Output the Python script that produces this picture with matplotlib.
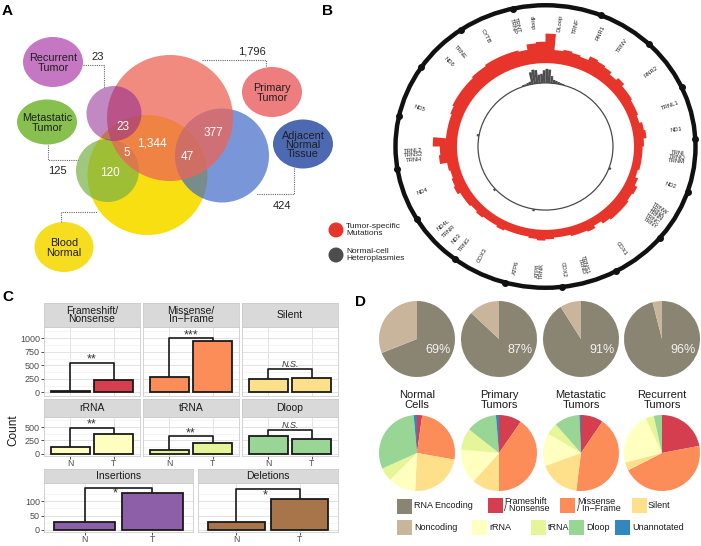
import numpy as np
import matplotlib
matplotlib.use("Agg")
import matplotlib.pyplot as plt
from matplotlib.patches import Circle, Ellipse, Polygon, Rectangle

plt.rcParams['font.family'] = ['Liberation Sans', 'DejaVu Sans']

# ---------------- data ----------------
# Panel A
venn_set_names = ["Recurrent\nTumor", "Metastatic\nTumor", "Primary\nTumor",
                  "Adjacent\nNormal\nTissue", "Blood\nNormal"]
venn_set_counts = [23, 125, 1796, 424]
venn_overlap_counts = [23, 1344, 5, 120, 377, 47]

# Panel B
MT_LEN = 16569
red_counts = [22, 10, 11, 10, 9, 12, 11, 10, 8, 10,
              8, 8, 7, 7, 6, 8, 9, 7, 6, 6,
              6, 5, 7, 9, 8, 9, 9, 9, 8, 6,
              8, 7, 7, 6, 6, 7, 8, 7, 6, 6,
              6, 7, 6, 6, 7, 6, 7, 7, 9, 8,
              7, 8, 13, 12, 17, 8, 8, 8, 9, 10,
              10, 10, 10, 11, 11, 12, 12, 12, 12, 11,
              15, 16]
gray_start_deg = [-20, -18, -16, -14, -12, -10, -8, -6, -4, -2, 0, 2, 4, 6, 8, 10, 12, 14,
                  109, 189, 227, 279]
gray_counts = [1, 1, 1.5, 2, 8.5, 10, 9.5, 6, 6.5, 9, 10, 9.5, 5, 2.5, 2, 1.5, 1, 0.8,
               1.5, 1.5, 1.5, 1.5]
gene_names = ["DLoop", "TRNF", "RNR1", "TRNV", "RNR2", "TRNL1", "ND1", "TRNI\nTRNQ\nTRNM",
              "ND2", "TRNW\nTRNA\nTRNN\nTRNC\nTRNY", "COX1", "TRNS1\nTRND", "COX2",
              "ATP8\nTRNK", "ATP6", "COX3", "TRNG", "ND3", "TRNR", "ND4L", "ND4",
              "TRNL2\nTRNS2\nTRNH", "ND5", "ND6", "TRNE", "CYTB", "TRNT\nTRNP", "dloop"]
gene_pos_bp = [288, 612, 1125, 1636, 2450, 3267, 3785, 4366, 4990, 5700, 6675, 7515, 7928,
               8400, 8867, 9600, 10025, 10230, 10437, 10618, 11450, 12240, 13240, 14410,
               14708, 15317, 15955, 16296]

# Panel C
c_categories = ["Frameshift/\nNonsense", "Missense/\nIn\u2212Frame", "Silent", "rRNA", "tRNA",
                "Dloop", "Insertions", "Deletions"]
c_normal = [31, 281, 250, 125, 62, 331, 28, 28]
c_tumor = [231, 950, 269, 362, 206, 269, 128, 109]
c_bracket = [544, 1000, 437, 487, 331, 450, 147, 142]
c_signif = ["**", "***", "N.S.", "**", "**", "N.S.", "*", "*"]
c_xlabels = ["N", "T"]

# Panel D
d_groups = ["Normal\nCells", "Primary\nTumors", "Metastatic\nTumors", "Recurrent\nTumors"]
d_rna_pct = [69, 87, 91, 96]
d_categories = ["Frameshift\n/ Nonsense", "Missense\n/ In\u2212Frame", "Silent", "rRNA", "tRNA",
                "Dloop", "Unannotated"]
d_normal = [2.2, 25.6, 23.0, 11.7, 5.8, 30.3, 1.4]
d_primary = [9.7, 40.3, 11.7, 14.7, 9.2, 13.1, 1.3]
d_metastatic = [9.5, 42.5, 17.5, 14.0, 5.0, 10.8, 0.7]
d_recurrent = [22.0, 45.5, 3.5, 22.0, 3.5, 3.5, 0.0]

# ---------------- figure ----------------
W, H = 701, 546
fig = plt.figure(figsize=(W / 100, H / 100), dpi=100)


def add_ax(x0, y0, x1, y1):
    return fig.add_axes([x0 / W, 1 - y1 / H, (x1 - x0) / W, (y1 - y0) / H])


ov = add_ax(0, 0, W, H)
ov.set_xlim(0, W)
ov.set_ylim(H, 0)
ov.axis('off')

# panel letters
for lab, (x, y) in zip("ABCD", [(2, 11), (322, 11), (2, 297), (355, 302)]):
    ov.text(x, y, lab, fontsize=11, fontweight='bold', ha='left', va='center')

# ---------------- Panel A ----------------
big = [((147.5, 175), 60, '#f7df12', 1.0),
       ((107.5, 170.5), 31.5, '#78b146', 0.7),
       ((222, 155.5), 47, '#3a66c6', 0.68),
       ((170, 118), 63, '#ed6455', 0.75),
       ((114, 113.5), 27.5, '#8e268e', 0.55)]
for c, r, col, a in big:
    ov.add_patch(Circle(c, r, fc=col, ec='none', alpha=a))

ell = [((53, 62), 60, 50, '#c677c4'),
       ((47, 122), 60, 45, '#87c04f'),
       ((272, 92), 60, 50, '#ee7d7f'),
       ((303, 144), 60, 49, '#4c69b2'),
       ((64, 247), 59, 50, '#f6dd1f')]
for (c, w, h, col), name in zip(ell, venn_set_names):
    ov.add_patch(Ellipse(c, w, h, fc=col, ec='none'))
    ov.text(c[0], c[1] + 1, name, ha='center', va='center', fontsize=7.8,
            color='#1f1f1f', linespacing=0.9)

dot = dict(color='#666666', lw=0.8, linestyle=(0, (1, 1)))
ov.plot([83, 104, 104], [65, 65, 88], **dot)
ov.plot([202, 266, 266], [60, 60, 67], **dot)
ov.plot([48, 48, 78], [145, 160, 160], **dot)
ov.plot([294, 294, 256], [168, 194, 194], **dot)
ov.plot([61, 61, 97], [222, 212, 212], **dot)

for v, (x, y) in zip(venn_set_counts, [(98, 57), (57, 171), (252, 51), (282, 206)]):
    ov.text(x, y, f"{v:,}", ha='center', va='center', fontsize=8, color='#222222')
for v, (x, y) in zip(venn_overlap_counts,
                     [(123, 127), (152, 143), (127, 153), (110, 173), (213, 133), (187, 157)]):
    ov.text(x, y, f"{v:,}", ha='center', va='center', fontsize=8.5, color='white')

# ---------------- Panel B ----------------
axB = add_ax(391, 1, 700, 292)
axB.set_xlim(-1.03, 1.03)
axB.set_ylim(-1.03, 1.03)
axB.axis('off')


def pol(theta_deg, r):
    t = np.deg2rad(theta_deg)
    return r * np.sin(t), r * np.cos(t)


R_IN = 0.59
SCALE = 0.0095
outer = []
for i, h in enumerate(red_counts):
    th = np.linspace(i * 5, (i + 1) * 5, 6)
    x, y = pol(th, R_IN + h * SCALE)
    outer += list(zip(x, y))
th = np.linspace(360, 0, 240)
x, y = pol(th, R_IN)
axB.add_patch(Polygon(outer + list(zip(x, y)), closed=True, fc='#e8352b', ec='none'))

R_G = 0.45
for s, h in zip(gray_start_deg, gray_counts):
    th = np.linspace(s, s + 2, 4)
    xo, yo = pol(th, R_G + h * 0.01)
    xi, yi = pol(th[::-1], R_G)
    axB.add_patch(Polygon(list(zip(xo, yo)) + list(zip(xi, yi)), closed=True,
                          fc='#4d4d4d', ec='none'))
axB.add_patch(Circle((0, 0), R_G, fill=False, ec='#4a4a4a', lw=0.9))

axB.add_patch(Circle((0, 0), 1.0, fill=False, ec='#111111', lw=3.2))
tick_bp = np.arange(1000, 16001, 1000)
x, y = pol(tick_bp / MT_LEN * 360, 1.0)
axB.plot(x, y, 'o', ms=4, color='#111111')

for name, bp in zip(gene_names, gene_pos_bp):
    thd = bp / MT_LEN * 360
    x, y = pol(thd, 0.88)
    rot = 90 - thd if thd <= 180 else 270 - thd
    axB.text(x, y, name, rotation=rot, ha='center', va='center', fontsize=4.2,
             linespacing=0.8, color='#222222', rotation_mode='anchor')

# legend B
ov.add_patch(Circle((336, 230), 7.5, fc='#e8352b', ec='none'))
ov.add_patch(Circle((336, 255), 7.5, fc='#4d4d4d', ec='none'))
ov.text(346, 230, "Tumor-specific\nMutations", fontsize=6, va='center', ha='left',
        linespacing=1.0, color='#222222')
ov.text(346, 255, "Normal-cell\nHeteroplasmies", fontsize=6, va='center', ha='left',
        linespacing=1.0, color='#222222')

# ---------------- Panel C ----------------
c_colors = ['#d53e4f', '#fc8d59', '#fee08b', '#ffffbf', '#e6f598', '#99d594',
            '#8c5fa8', '#a8744a']
c_rows = [[0, 1, 2], [3, 4, 5], [6, 7]]
row_geo = [(303, 327, 396), (399, 417, 456), (469, 483, 532)]
col_geo = [[(44, 140), (143, 239), (242, 338)],
           [(44, 140), (143, 239), (242, 338)],
           [(44, 193), (198, 338)]]
row_ylim = [(-65, 1205), (-45, 690), (-7, 163)]
row_ticks = [[0, 250, 500, 750, 1000], [0, 250, 500], [0, 50, 100]]

for ri, idxs in enumerate(c_rows):
    st, pt, pb = row_geo[ri]
    for ci, k in enumerate(idxs):
        x0, x1 = col_geo[ri][ci]
        ax = add_ax(x0, pt, x1, pb)
        ax.set_facecolor('white')
        ax.bar([1, 2], [c_normal[k], c_tumor[k]], width=0.9, color=c_colors[k],
               edgecolor='#1a1a1a', linewidth=1.3, zorder=3)
        ax.set_xlim(0.4, 2.6)
        ax.set_ylim(*row_ylim[ri])
        tk = row_ticks[ri]
        ax.set_yticks(tk)
        ax.set_yticks([(a + b) / 2 for a, b in zip(tk[:-1], tk[1:])] + [tk[-1] + (tk[1] - tk[0]) / 2],
                      minor=True)
        ax.set_xticks([1, 2])
        ax.set_xticklabels(c_xlabels)
        ax.grid(which='major', color='#e3e3e3', lw=0.7, zorder=0)
        ax.grid(which='minor', axis='y', color='#f1f1f1', lw=0.5, zorder=0)
        ax.set_axisbelow(True)
        ax.tick_params(which='major', length=2, width=0.6, color='#333333', labelsize=6.5,
                       labelcolor='#4d4d4d', pad=1)
        ax.tick_params(axis='x', labelsize=6.2, pad=0.5)
        ax.tick_params(which='minor', length=0)
        if ci != 0:
            ax.tick_params(labelleft=False, left=False)
        if ri == 0:
            ax.tick_params(labelbottom=False, bottom=False)
        for sp in ax.spines.values():
            sp.set_color('#cccccc')
            sp.set_linewidth(0.6)
        b = c_bracket[k]
        ax.plot([1, 1, 2, 2], [c_normal[k], b, b, c_tumor[k]], color='#1a1a1a', lw=1.2,
                zorder=4, solid_capstyle='butt')
        if c_signif[k] == "N.S.":
            ax.text(1.5, b, c_signif[k], ha='center', va='bottom', fontsize=6.5,
                    style='italic', color='#333333')
        elif ri == 2:
            ax.text(1.45, b, c_signif[k], ha='center', va='top', fontsize=9,
                    color='#333333')
        else:
            ax.text(1.5, b, c_signif[k], ha='center', va='baseline', fontsize=9,
                    color='#333333')
        sax = add_ax(x0, st, x1, pt)
        sax.set_facecolor('#d9d9d9')
        sax.set_xticks([])
        sax.set_yticks([])
        for sp in sax.spines.values():
            sp.set_color('#cccccc')
            sp.set_linewidth(0.6)
        sax.text(0.5, 0.5, c_categories[k], ha='center', va='center', fontsize=7.5,
                 color='#1a1a1a', linespacing=0.85, transform=sax.transAxes)

ov.text(13, 430, "Count", rotation=90, ha='center', va='center', fontsize=8.5, color='#1a1a1a')

# ---------------- Panel D ----------------
d_x = [417, 499, 581, 662]
rna_colors = ['#8a8573', '#c9b59c']
lim = 1.0526
for i, (g, pct) in enumerate(zip(d_groups, d_rna_pct)):
    cx = d_x[i]
    ax = add_ax(cx - 40, 339 - 40, cx + 40, 339 + 40)
    ax.pie([pct, 100 - pct], colors=rna_colors, startangle=90, counterclock=False,
           radius=1.0, wedgeprops=dict(linewidth=0))
    ax.set_xlim(-lim, lim)
    ax.set_ylim(-lim, lim)
    ax.set_aspect('equal')
    ax.axis('off')
    ax.text(0.55, -0.3, f"{pct}%", ha='center', va='center', fontsize=9, color='#f2f2f2')
    ov.text(cx, 400, g, ha='center', va='center', fontsize=8, linespacing=0.95,
            color='#1a1a1a')

d_colors = ['#d53e4f', '#fc8d59', '#fee08b', '#ffffbf', '#e6f598', '#99d594', '#3288bd']
for i, vals in enumerate([d_normal, d_primary, d_metastatic, d_recurrent]):
    cx = d_x[i]
    ax = add_ax(cx - 40, 453 - 40, cx + 40, 453 + 40)
    ax.pie(vals, colors=d_colors, startangle=90, counterclock=False, radius=1.0,
           wedgeprops=dict(linewidth=0))
    ax.set_xlim(-lim, lim)
    ax.set_ylim(-lim, lim)
    ax.set_aspect('equal')
    ax.axis('off')

# legend D
leg_items = [("RNA Encoding", rna_colors[0], 397, 506, 414),
             (d_categories[0], d_colors[0], 488, 505, 504),
             (d_categories[1], d_colors[1], 560, 505, 577),
             (d_categories[2], d_colors[2], 632, 505, 648),
             ("Noncoding", rna_colors[1], 397, 527, 414),
             (d_categories[3], d_colors[3], 472, 527, 489),
             (d_categories[4], d_colors[4], 531, 527, 548),
             (d_categories[5], d_colors[5], 569, 527, 586),
             (d_categories[6], d_colors[6], 615, 527, 632)]
for lab, col, px, py, tx in leg_items:
    ov.add_patch(Rectangle((px, py - 7.5), 15, 15, fc=col, ec='none'))
    ov.text(tx, py, lab, ha='left', va='center', fontsize=6.5, linespacing=0.85,
            color='#1a1a1a')

fig.savefig("out.png", dpi=100)
